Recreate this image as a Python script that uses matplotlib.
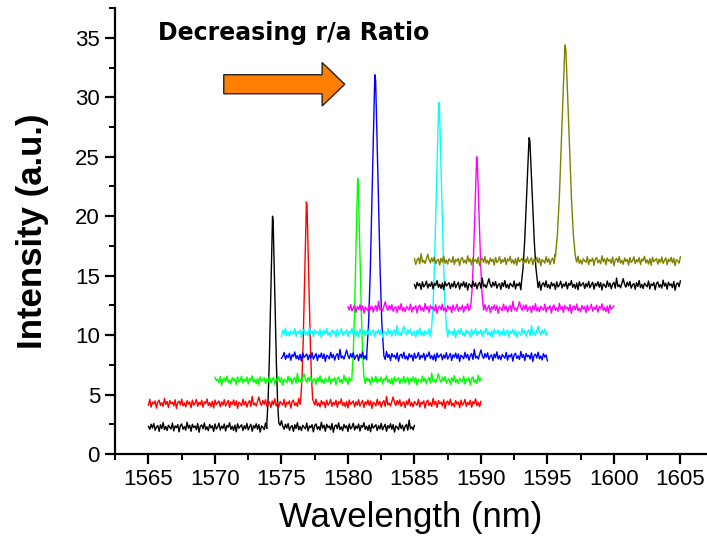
import numpy as np
import matplotlib
matplotlib.use("Agg")
import matplotlib.pyplot as plt
from matplotlib.patches import FancyArrow
from matplotlib.ticker import MultipleLocator

# ---- spectra (one per r/a ratio) ----
wl_start = [1565, 1565, 1570, 1575, 1575, 1580, 1585, 1585]
wl_end = [1585, 1590, 1590, 1595, 1595, 1600, 1605, 1605]
baseline = [2.25, 4.25, 6.2, 8.2, 10.2, 12.25, 14.2, 16.25]
peak_wl = [1574.35, 1576.9, 1580.75, 1582.05, 1586.85, 1589.7, 1593.65, 1596.35]
peak_top = [20.0, 21.2, 23.2, 31.9, 29.6, 25.0, 26.6, 34.4]
peak_halfwidth = [0.45, 0.45, 0.45, 0.62, 0.56, 0.46, 0.6, 0.75]
colors = ["#000000", "#FF0000", "#00FF00", "#0000FF",
          "#00FFFF", "#FF00FF", "#000000", "#808000"]
noise_shift = [0, 17, 33, 51, 8, 72, 44, 90]

# normalised resonance line shape (offset in half-widths, fraction of peak)
shape_offset = [-1.0, -0.8, -0.6, -0.4, -0.2, -0.05, 0.05, 0.2, 0.4, 0.6, 0.8, 1.0]
shape_level = [0.02, 0.12, 0.3, 0.55, 0.8, 1.0, 0.98, 0.8, 0.55, 0.3, 0.12, 0.02]

# detector noise on the baseline (a.u.)
ripple = [0.07, -0.17, 0.25, -0.07, 0.31, -0.25, 0.03, 0.14, -0.35, 0.21,
          -0.11, 0.39, -0.21, 0.07, -0.28, 0.17, 0.00, -0.14, 0.35, -0.31,
          0.11, -0.04, 0.22, -0.39, 0.14, 0.28, -0.17, 0.06, -0.25, 0.42,
          -0.08, 0.17, -0.34, 0.25, -0.03, 0.11, -0.21, 0.31, -0.42, 0.08,
          0.20, -0.13, 0.36, -0.20, 0.04, -0.29, 0.24, -0.06, 0.13, -0.36,
          0.28, -0.15, 0.01, 0.34, -0.24, 0.10, -0.10, 0.27, -0.32, 0.15,
          -0.01, 0.38, -0.18, 0.08, -0.27, 0.18, -0.38, 0.29, -0.08, 0.06,
          0.21, -0.28, 0.13, -0.14, 0.32, -0.22, 0.03, 0.25, -0.34, 0.14,
          -0.07, 0.29, -0.17, 0.22, -0.41, 0.11, 0.00, -0.20, 0.35, -0.11,
          0.18, -0.31, 0.07, 0.24, -0.25, 0.60, -0.13, 0.04, -0.22, 0.15, 0.55]

x_ticks = [1565, 1570, 1575, 1580, 1585, 1590, 1595, 1600, 1605]
y_ticks = [0, 5, 10, 15, 20, 25, 30, 35]

plt.rcParams["font.family"] = ["Liberation Sans", "DejaVu Sans"]

fig = plt.figure(figsize=(7.07, 5.45), dpi=100)
ax = fig.add_axes([0.163, 0.167, 0.837, 0.818])

step = 0.1
for i in range(len(wl_start)):
    xs = np.arange(wl_start[i], wl_end[i] + step / 2, step)
    idx = (np.arange(len(xs)) + noise_shift[i]) % len(ripple)
    ys = baseline[i] + np.asarray(ripple)[idx]
    c, hw = peak_wl[i], peak_halfwidth[i]
    left = xs < c - hw
    right = xs > c + hw
    px = c + np.asarray(shape_offset) * hw
    py = baseline[i] + np.asarray(shape_level) * (peak_top[i] - baseline[i])
    x_all = np.concatenate([xs[left], px, xs[right]])
    y_all = np.concatenate([ys[left], py, ys[right]])
    ax.plot(x_all, y_all, color=colors[i], lw=1.0)

ax.set_xlim(1562.5, 1607)
ax.set_ylim(0, 37.5)
ax.set_xticks(x_ticks)
ax.set_yticks(y_ticks)
ax.xaxis.set_minor_locator(MultipleLocator(2.5))
ax.yaxis.set_minor_locator(MultipleLocator(2.5))
for side in ["top", "right"]:
    ax.spines[side].set_visible(False)
for side in ["left", "bottom"]:
    ax.spines[side].set_linewidth(1.6)
ax.tick_params(which="major", direction="out", length=7, width=1.6,
               labelsize=16, pad=4)
ax.tick_params(which="minor", direction="out", length=4, width=1.4)

ax.set_xlabel("Wavelength (nm)", fontsize=25, labelpad=8)
ax.set_ylabel("Intensity (a.u.)", fontsize=25, fontweight="bold", labelpad=19)

ax.text(1565.7, 35.45, "Decreasing r/a Ratio", fontsize=17, fontweight="bold",
        family=["DejaVu Sans"], ha="left", va="center")

ax.add_patch(FancyArrow(1570.66, 31.1, 9.1, 0, width=1.6, head_width=3.65,
                        head_length=1.7, length_includes_head=True,
                        facecolor="#FF8000", edgecolor="#222222", lw=1.0))

fig.savefig("out.png", dpi=100)
